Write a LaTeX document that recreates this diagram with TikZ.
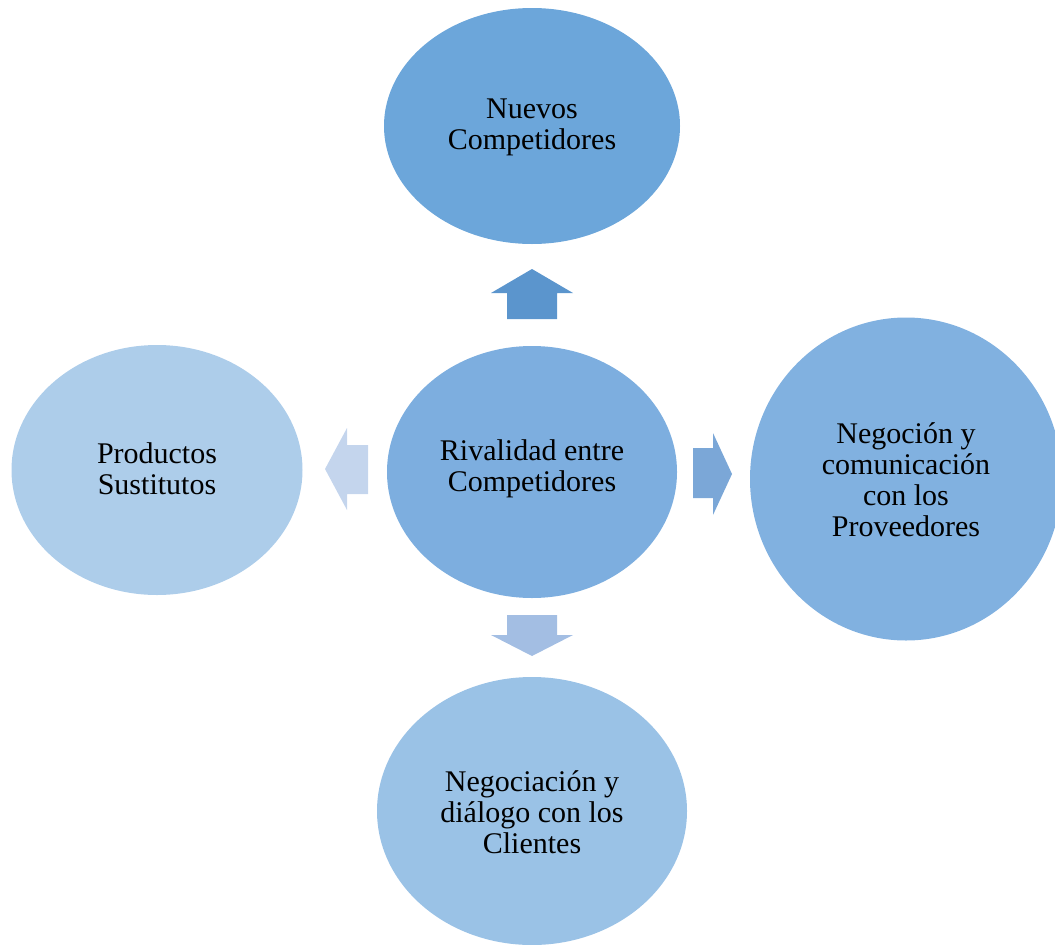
\documentclass[tikz,border=0pt]{standalone}
\usepackage{fontspec}
\setmainfont{Liberation Serif}
\usetikzlibrary{shapes.geometric}
\definecolor{topfill}{HTML}{6CA6DA}
\definecolor{midfill}{HTML}{7DAEDF}
\definecolor{rightfill}{HTML}{81B1E0}
\definecolor{botfill}{HTML}{9AC2E6}
\definecolor{leftfill}{HTML}{ADCDEA}
\definecolor{uparrow}{HTML}{5B95CD}
\definecolor{rightarrow}{HTML}{7BA7D7}
\definecolor{downarrow}{HTML}{A3BEE3}
\definecolor{leftarrow}{HTML}{C4D5ED}
\tikzset{
    force/.style =  {ellipse,
                    draw=none,
                    text=black,
                    align=center,
                    inner sep=0pt,
                    font=\fontsize{30}{31}\selectfont},
    blockarrow/.style = {draw=none}
}
\begin{document}
\begin{tikzpicture}[x=1pt,y=-1pt]
        \useasboundingbox (0,0) rectangle (1055,945);
        \clip (0,0) rectangle (1055,945);
        % the five forces
        \node[force, fill=topfill, minimum width=296pt, minimum height=236pt]   (nuevos)     at (532,126) {};
        \node[force, fill=midfill, minimum width=290pt, minimum height=252pt]   (rivalidad)  at (532,472) {};
        \node[force, fill=leftfill, minimum width=291pt, minimum height=250pt]  (sustitutos) at (157,470) {};
        \node[force, fill=rightfill, minimum width=312pt, minimum height=323pt] (proveedores) at (906,479) {};
        \node[force, fill=botfill, minimum width=310pt, minimum height=268pt]   (clientes)   at (532,811) {};
        % labels
        \node[force] (nuevosT)      at (532,127) {Nuevos\\Competidores};
        \node[force] (rivalidadT)   at (532,469) {Rivalidad entre\\Competidores};
        \node[force] (sustitutosT)  at (157,469) {Productos\\Sustitutos};
        \node[force] (proveedoresT) at (906,480) {Negoción y\\comunicación\\con los\\Proveedores};
        \node[force] (clientesT)    at (532,812) {Negociación y\\diálogo con los\\Clientes};
        % block arrows
        \fill[blockarrow, uparrow]    (507,319) -- (507,293) -- (491,293) -- (532,269) -- (573,293) -- (557,293) -- (557,319) -- cycle;
        \fill[blockarrow, downarrow]  (507,615) -- (507,635) -- (491,635) -- (532,656) -- (573,635) -- (557,635) -- (557,615) -- cycle;
        \fill[blockarrow, leftarrow]  (368,445) -- (347,445) -- (347,428) -- (325,469) -- (347,510) -- (347,494) -- (368,494) -- cycle;
        \fill[blockarrow, rightarrow] (693,448) -- (713,448) -- (713,433) -- (732,474) -- (713,515) -- (713,498) -- (693,498) -- cycle;
\end{tikzpicture}
\end{document}
